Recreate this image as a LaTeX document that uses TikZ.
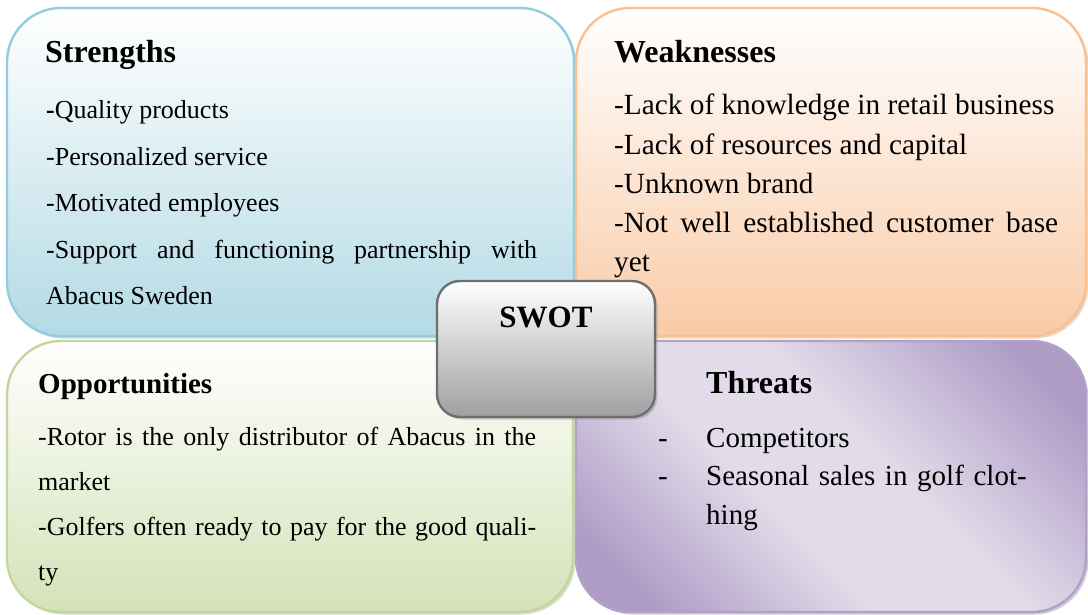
\documentclass[tikz,border=0pt]{standalone}
\usepackage{fontspec}
\setmainfont{Liberation Serif}
\usetikzlibrary{shadows}

\definecolor{sline}{HTML}{93CDDD}
\definecolor{sfill}{HTML}{B3DAE5}
\definecolor{wline}{HTML}{FAC090}
\definecolor{wfill}{HTML}{F9CBA7}
\definecolor{oline}{HTML}{C3D69B}
\definecolor{ofill}{HTML}{D4E2B8}
\definecolor{tline}{HTML}{B2A1C7}
\definecolor{tfill}{HTML}{AE9CC6}
\definecolor{tlight}{HTML}{E2DCEA}
\definecolor{gline}{HTML}{6E6E6E}

\pgfdeclareverticalshading{threatshade}{100bp}{color(0bp)=(tfill); color(22bp)=(tfill);
  color(42bp)=(tlight); color(56bp)=(tlight); color(78bp)=(tfill); color(100bp)=(tfill)}

\begin{document}
\begin{tikzpicture}[x=1pt, y=-1pt,
    quadbox/.style={rounded corners=54pt, line width=2.4pt, inner sep=0pt},
    head/.style={anchor=base west, inner sep=0pt, font=\fontsize{#1}{36}\selectfont\bfseries},
    head/.default=32,
    body/.style={anchor=base west, inner sep=0pt, align=justify, text width=#1}]
  \useasboundingbox (0,0) rectangle (1088,615);

  % the four quadrants
  \node (S) [quadbox, draw=sline, top color=white, bottom color=sfill,
    drop shadow={shadow xshift=2.5pt, shadow yshift=-2.5pt, fill=sline!70!gray},
    minimum width=567pt, minimum height=328pt] at (290.5,172) {};
  \node (W) [quadbox, draw=wline, top color=white, bottom color=wfill,
    drop shadow={shadow xshift=2.5pt, shadow yshift=-2.5pt, fill=wline!70!gray},
    minimum width=510pt, minimum height=328pt] at (831,172) {};
  \node (O) [quadbox, draw=oline, top color=white, bottom color=ofill,
    drop shadow={shadow xshift=2.5pt, shadow yshift=-2.5pt, fill=oline!70!gray},
    minimum width=566pt, minimum height=271pt] at (290,476.5) {};
  \node (T) [quadbox, draw=tline, shading=threatshade, shading angle=-45,
    drop shadow={shadow xshift=2.5pt, shadow yshift=-2.5pt, fill=tline!70!gray},
    minimum width=510pt, minimum height=271pt] at (831,476.5) {};

  % texts
  \node (Shead) [head] at (45,63) {Strengths};
  \node (Sbody) [body=491pt, font=\fontsize{26}{46.5}\selectfont] at (46,119)
    {\textbf{-}Quality products\\
     -Personalized service\\
     -Motivated employees\\
     -Support and functioning partnership with\linebreak Abacus Sweden};

  \node (Whead) [head] at (614,63) {Weaknesses};
  \node (Wbody) [body=444pt, font=\fontsize{29.3}{39.2}\selectfont] at (614,115)
    {-Lack of knowledge in retail business\\
     -Lack of resources and capital\\
     -Unknown brand\\
     -Not well established customer base\linebreak yet};

  \node (Ohead) [head=29] at (38,393) {Opportunities};
  \node (Obody) [body=498pt, font=\fontsize{26}{45}\selectfont] at (38,445)
    {-Rotor is the only distributor of Abacus in the\linebreak market\\
     -Golfers often ready to pay for the good quali-\linebreak ty};

  \node (Thead) [head] at (706,393) {Threats};
  \node (Tbody) [body=420pt, align=left, font=\fontsize{29}{38.5}\selectfont] at (658,447)
    {\makebox[48pt][l]{-}Competitors\\
     \makebox[48pt][l]{-}Seasonal sales in golf clot-\\
     \hspace*{48pt}hing};

  % centre box
  \node (swot) [rounded corners=23pt, line width=2.4pt, draw=gline, top color=white, bottom color=gray!75,
    drop shadow={shadow xshift=2.5pt, shadow yshift=-2.5pt, fill=gray!80},
    minimum width=218pt, minimum height=136pt, inner sep=0pt] at (546,349) {};
  \node (swotlabel) [anchor=base, inner sep=0pt, font=\fontsize{31}{36}\selectfont\bfseries] at (546,327) {SWOT};
\end{tikzpicture}
\end{document}
